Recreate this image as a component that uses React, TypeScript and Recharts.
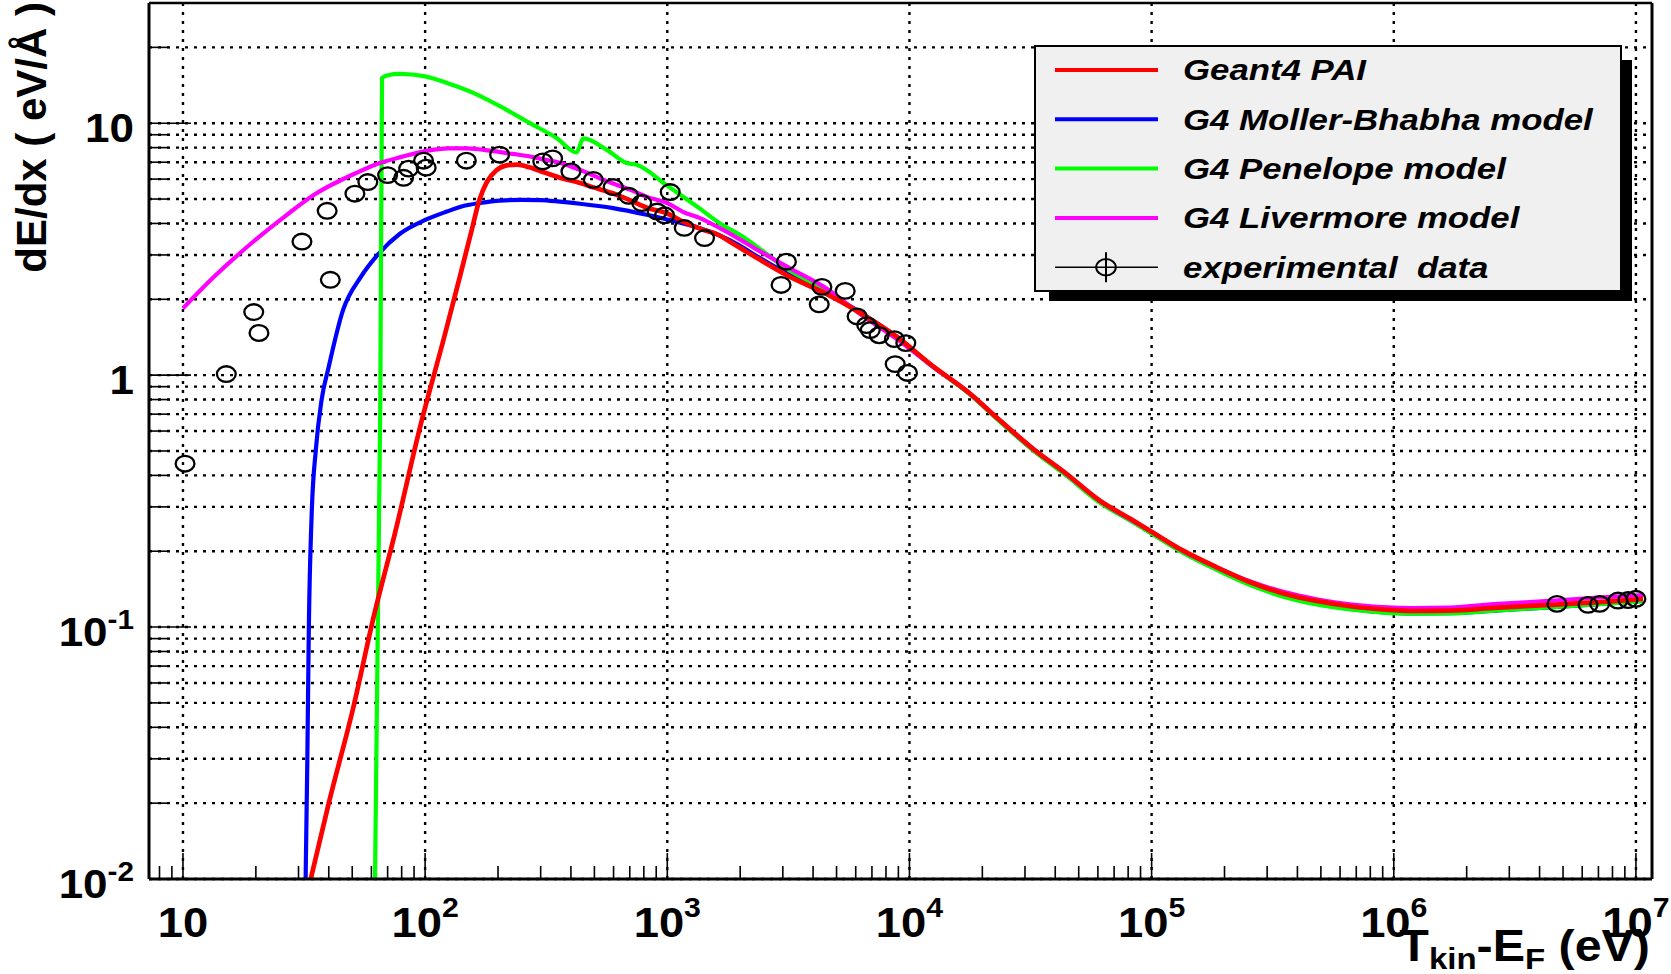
import React from 'react';
import { ComposedChart, Line, Scatter, XAxis, YAxis, CartesianGrid, Legend, ReferenceLine } from 'recharts';

const FONT = '"Liberation Sans", Arial, Helvetica, sans-serif';

// energy (eV) -> dE/dx (eV/Å)
const paiData: [number, number][] = [
  [33.7, 0.01], [40, 0.02], [50, 0.046], [62, 0.115], [75, 0.235], [96, 0.64], [120, 1.42], [139, 2.45],
  [155, 3.7], [168, 5.0], [180, 5.85], [197, 6.5], [217, 6.8], [240, 6.85], [270, 6.68], [300, 6.45],
  [360, 6.08], [420, 5.85], [500, 5.55], [590, 5.28], [700, 4.95], [824, 4.62], [1000, 4.38], [1160, 4.07],
  [1400, 3.78], [1630, 3.6], [1800, 3.4], [2000, 3.2], [2300, 2.95], [3200, 2.46], [4500, 2.11], [6300, 1.76],
  [8870, 1.42], [12500, 1.085], [17500, 0.855], [23700, 0.66], [32400, 0.51], [44500, 0.406], [61000, 0.318],
  [84000, 0.265], [1e5, 0.239], [1.35e5, 0.201], [1.85e5, 0.173], [2.54e5, 0.151], [3.5e5, 0.136],
  [4.8e5, 0.127], [6.6e5, 0.121], [9e5, 0.1175], [1.2e6, 0.1158], [1.7e6, 0.1162], [2.7e6, 0.1195],
  [4.4e6, 0.1225], [7e6, 0.1255], [1.07e7, 0.1295],
];

const mollerData: [number, number][] = [
  [32.1, 0.01], [32.6, 0.028], [33.1, 0.1], [34, 0.28], [35.4, 0.51], [37.3, 0.79], [40, 1.08], [45.8, 1.81],
  [54.2, 2.45], [64.2, 3.03], [78.7, 3.64], [100, 4.13], [123, 4.46], [145, 4.7], [168, 4.82], [203, 4.93],
  [250, 4.96], [300, 4.95], [360, 4.88], [436, 4.79], [598, 4.6], [822, 4.33], [1000, 4.15], [1364, 3.83],
  [1630, 3.6], [2000, 3.26], [2300, 3.0], [3200, 2.5], [4500, 2.13], [6300, 1.77], [8870, 1.41], [12500, 1.08],
  [17500, 0.85], [23700, 0.655], [32400, 0.505], [44500, 0.401], [61000, 0.314], [84000, 0.262], [1e5, 0.236],
  [1.35e5, 0.198], [1.85e5, 0.17], [2.54e5, 0.148], [3.5e5, 0.133], [4.8e5, 0.124], [6.6e5, 0.118],
  [9e5, 0.1145], [1.2e6, 0.1132], [1.7e6, 0.1135], [2.7e6, 0.1165], [4.4e6, 0.1198], [7e6, 0.1232], [1.07e7, 0.127],
];

const penelopeData: [number, number][] = [
  [62.1, 0.01], [65.3, 0.785], [66.4, 15.1], [70, 15.5], [78.7, 15.7], [100, 15.35], [123, 14.45], [158, 13.2],
  [210, 11.5], [271, 10.0], [349, 8.73], [422, 7.65], [450, 8.7], [561, 7.85], [679, 6.95], [747, 6.84],
  [1000, 5.65], [1364, 4.58], [1650, 4.0], [2000, 3.6], [3200, 2.6], [4500, 2.17], [6300, 1.75], [8870, 1.41],
  [12500, 1.08], [17500, 0.85], [23700, 0.652], [32400, 0.503], [44500, 0.399], [61000, 0.312], [84000, 0.26],
  [1e5, 0.235], [1.35e5, 0.197], [1.85e5, 0.169], [2.54e5, 0.147], [3.5e5, 0.132], [4.8e5, 0.123],
  [6.6e5, 0.1175], [9e5, 0.1142], [1.2e6, 0.113], [1.7e6, 0.1133], [2.7e6, 0.1165], [4.4e6, 0.1198],
  [7e6, 0.1232], [1.07e7, 0.1268],
];

const livermoreData: [number, number][] = [
  [10, 1.84], [13.4, 2.45], [18.9, 3.3], [26.6, 4.3], [34.8, 5.2], [52, 6.35], [65, 6.95], [80, 7.35],
  [100, 7.75], [125, 7.95], [150, 7.95], [185, 7.78], [230, 7.55], [271, 7.38], [300, 7.22], [360, 6.97],
  [435, 6.53], [585, 5.8], [700, 5.45], [824, 5.1], [1000, 4.82], [1160, 4.45], [1364, 4.2], [1650, 3.83],
  [2000, 3.45], [2280, 3.2], [3200, 2.66], [4500, 2.22], [6300, 1.74], [8870, 1.39], [12500, 1.08],
  [17500, 0.857], [23700, 0.66], [32400, 0.51], [44500, 0.405], [61000, 0.317], [84000, 0.263], [1e5, 0.239],
  [1.35e5, 0.2], [1.85e5, 0.173], [2.54e5, 0.152], [3.5e5, 0.138], [4.8e5, 0.129], [6.6e5, 0.123],
  [9e5, 0.12], [1.2e6, 0.119], [1.7e6, 0.1195], [2.7e6, 0.1236], [4.4e6, 0.127], [7e6, 0.131], [1.07e7, 0.134],
];

const expData: [number, number][] = [
  [10.2, 0.445], [15.1, 1.01], [19.6, 1.78], [20.6, 1.47], [31, 3.39], [39.4, 4.49], [40.6, 2.39],
  [51.3, 5.25], [58, 5.84], [70, 6.22], [81.5, 6.07], [85.5, 6.6], [98.5, 7.1], [101, 6.66], [148, 7.1],
  [203, 7.5], [306, 7.05], [336, 7.25], [400, 6.43], [495, 5.96], [598, 5.58], [693, 5.15], [784, 4.82],
  [908, 4.46], [975, 4.31], [1028, 5.33], [1175, 3.84], [1425, 3.5], [2950, 2.28], [3105, 2.82], [4240, 1.91],
  [4350, 2.24], [5430, 2.16], [6080, 1.71], [6660, 1.58], [6890, 1.51], [7500, 1.44], [8670, 1.39],
  [8730, 1.106], [9660, 1.34], [9820, 1.02], [4.72e6, 0.1236], [6.34e6, 0.1225], [7.08e6, 0.1236],
  [8.43e6, 0.1274], [9.27e6, 0.128], [1.0e7, 0.1295],
];

// axes
const X_DOMAIN: [number, number] = [7.24, 1.165e7];
const Y_DOMAIN: [number, number] = [0.01, 30];
const xMajor = [10, 100, 1e3, 1e4, 1e5, 1e6, 1e7];
const xTickLabels: [string, string][] = [['10', ''], ['10', '2'], ['10', '3'], ['10', '4'], ['10', '5'], ['10', '6'], ['10', '7']];
const yMajor = [0.01, 0.1, 1, 10];
const yTickLabels: [string, string][] = [['10', '-2'], ['10', '-1'], ['1', ''], ['10', '']];
const minorSteps = [2, 3, 4, 5, 6, 7, 8, 9];

const xTicks = [8, 9, ...xMajor.flatMap((d) => [d, ...(d < 1e7 ? minorSteps.map((m) => m * d) : [])])];
const yTicks = [...yMajor.flatMap((d) => [d, ...minorSteps.map((m) => +(m * d).toPrecision(3))])].filter((v) => v <= 20);

const legendItems = [
  { name: 'Geant4 PAI', color: '#ff0000' },
  { name: 'G4 Moller-Bhabha model', color: '#0000ff' },
  { name: 'G4 Penelope model', color: '#00ff00' },
  { name: 'G4 Livermore model', color: '#ff00ff' },
  { name: 'experimental  data', color: '#000000' },
];

const toPoints = (arr: [number, number][]) => arr.map(([x, y]) => ({ x, y }));

const majorIndex = (list: number[], v: number) => list.findIndex((m) => Math.abs(m - v) / m < 1e-6);

const XTick = (props: any) => {
  const { x, y, payload } = props;
  const i = majorIndex(xMajor, payload.value);
  const major = i >= 0;
  return (
    <g>
      <line x1={x} x2={x} y1={y} y2={y - (major ? 26 : 13)} stroke="#000" strokeWidth={1.6} />
      {major && (
        <text
          transform={`translate(${x},${y + 58}) scale(1.08,1)`}
          textAnchor="middle"
          fontFamily={FONT}
          fontWeight="bold"
          fontSize={42}
          fill="#000"
        >
          {xTickLabels[i][0]}
          {xTickLabels[i][1] && (
            <tspan fontSize={28} dy={-20}>
              {xTickLabels[i][1]}
            </tspan>
          )}
        </text>
      )}
    </g>
  );
};

const YTick = (props: any) => {
  const { x, y, payload } = props;
  const i = majorIndex(yMajor, payload.value);
  const major = i >= 0;
  return (
    <g>
      <line x1={x} x2={x + (major ? 42 : 21)} y1={y} y2={y} stroke="#000" strokeWidth={1.6} />
      {major && (
        <text
          transform={`translate(${x - 15},${y + 18.5}) scale(1.1,1)`}
          textAnchor="end"
          fontFamily={FONT}
          fontWeight="bold"
          fontSize={40}
          fill="#000"
        >
          {yTickLabels[i][0]}
          {yTickLabels[i][1] && (
            <tspan fontSize={27} dy={-17}>
              {yTickLabels[i][1]}
            </tspan>
          )}
        </text>
      )}
    </g>
  );
};

const Circle = (props: any) => {
  const { cx, cy } = props;
  return <ellipse cx={cx} cy={cy} rx={9.4} ry={7.8} fill="none" stroke="#000" strokeWidth={2.3} />;
};

const LegendBox = () => (
  <svg width={598} height={256} style={{ display: 'block' }}>
    <rect x={15} y={15} width={583} height={241} fill="#000" />
    <rect x={1} y={1} width={586} height={245} fill="#f0f0f0" stroke="#000" strokeWidth={2} />
    {legendItems.map((item, i) => {
      const cy = 25 + i * 49.3;
      const isData = i === legendItems.length - 1;
      return (
        <g key={item.name}>
          <line x1={21} x2={124} y1={cy} y2={cy} stroke={item.color} strokeWidth={isData ? 1.6 : 4} />
          {isData && (
            <>
              <ellipse cx={72} cy={cy} rx={9.8} ry={8.2} fill="none" stroke="#000" strokeWidth={2} />
              <line x1={72} x2={72} y1={cy - 15} y2={cy + 15} stroke="#000" strokeWidth={2} />
            </>
          )}
          <text
            transform={`translate(149,${cy + 10.3}) scale(1.2,1)`}
            fontFamily={FONT}
            fontWeight="bold"
            fontStyle="italic"
            fontSize={29}
            fill="#000"
            style={{ whiteSpace: 'pre' }}
          >
            {item.name}
          </text>
        </g>
      );
    })}
  </svg>
);

const YTitle = () => (
  <text transform="translate(46,2) rotate(-90)" textAnchor="end" fontFamily={FONT} fontWeight="bold" fontSize={42} fill="#000">
    dE/dx ( eV/Å )
  </text>
);

const XTitle = () => (
  <text transform="translate(1650,961) scale(1.1,1)" textAnchor="end" fontFamily={FONT} fontWeight="bold" fontSize={44} fill="#000">
    T
    <tspan fontSize={30} dy={8}>kin</tspan>
    <tspan dy={-8}>-E</tspan>
    <tspan fontSize={30} dy={8}>F</tspan>
    <tspan dy={-8}>{' (eV)'}</tspan>
  </text>
);

export default function App() {
  return (
    <div style={{ position: 'absolute', left: 0, top: 0, width: 1671, height: 974, background: '#fff' }}>
      <ComposedChart width={1671} height={974} margin={{ top: 3, right: 19, left: 0, bottom: 0 }}>
        <CartesianGrid
          horizontalValues={yTicks}
          verticalValues={xMajor}
          stroke="#000"
          strokeWidth={2.4}
          strokeDasharray="3 6"
        />
        <XAxis
          dataKey="x"
          type="number"
          scale="log"
          domain={X_DOMAIN}
          allowDataOverflow
          ticks={xTicks}
          interval={0}
          tick={XTick}
          tickLine={false}
          tickSize={0}
          tickMargin={0}
          axisLine={{ stroke: '#000', strokeWidth: 3 }}
          height={95}
          label={XTitle}
        />
        <YAxis
          dataKey="y"
          type="number"
          scale="log"
          domain={Y_DOMAIN}
          allowDataOverflow
          ticks={yTicks}
          interval={0}
          tick={YTick}
          tickLine={false}
          tickSize={0}
          tickMargin={0}
          axisLine={{ stroke: '#000', strokeWidth: 3 }}
          width={149}
          label={YTitle}
        />
        <ReferenceLine y={Y_DOMAIN[1]} stroke="#000" strokeWidth={2.5} />
        <ReferenceLine x={X_DOMAIN[1]} stroke="#000" strokeWidth={3} />
        <Line data={toPoints(mollerData)} dataKey="y" type="monotone" stroke="#0000ff" strokeWidth={4.2} dot={false} activeDot={false} isAnimationActive={false} />
        <Line data={toPoints(penelopeData)} dataKey="y" type="monotone" stroke="#00ff00" strokeWidth={4.2} dot={false} activeDot={false} isAnimationActive={false} />
        <Line data={toPoints(livermoreData)} dataKey="y" type="monotone" stroke="#ff00ff" strokeWidth={4.2} dot={false} activeDot={false} isAnimationActive={false} />
        <Line data={toPoints(paiData)} dataKey="y" type="monotone" stroke="#ff0000" strokeWidth={4.7} dot={false} activeDot={false} isAnimationActive={false} />
        <Scatter data={toPoints(expData)} dataKey="y" shape={Circle} isAnimationActive={false} />
        <Legend
          layout="vertical"
          align="center"
          verticalAlign="middle"
          content={LegendBox}
          wrapperStyle={{ left: 1034, top: 45, width: 598, height: 256 }}
        />
      </ComposedChart>
    </div>
  );
}
